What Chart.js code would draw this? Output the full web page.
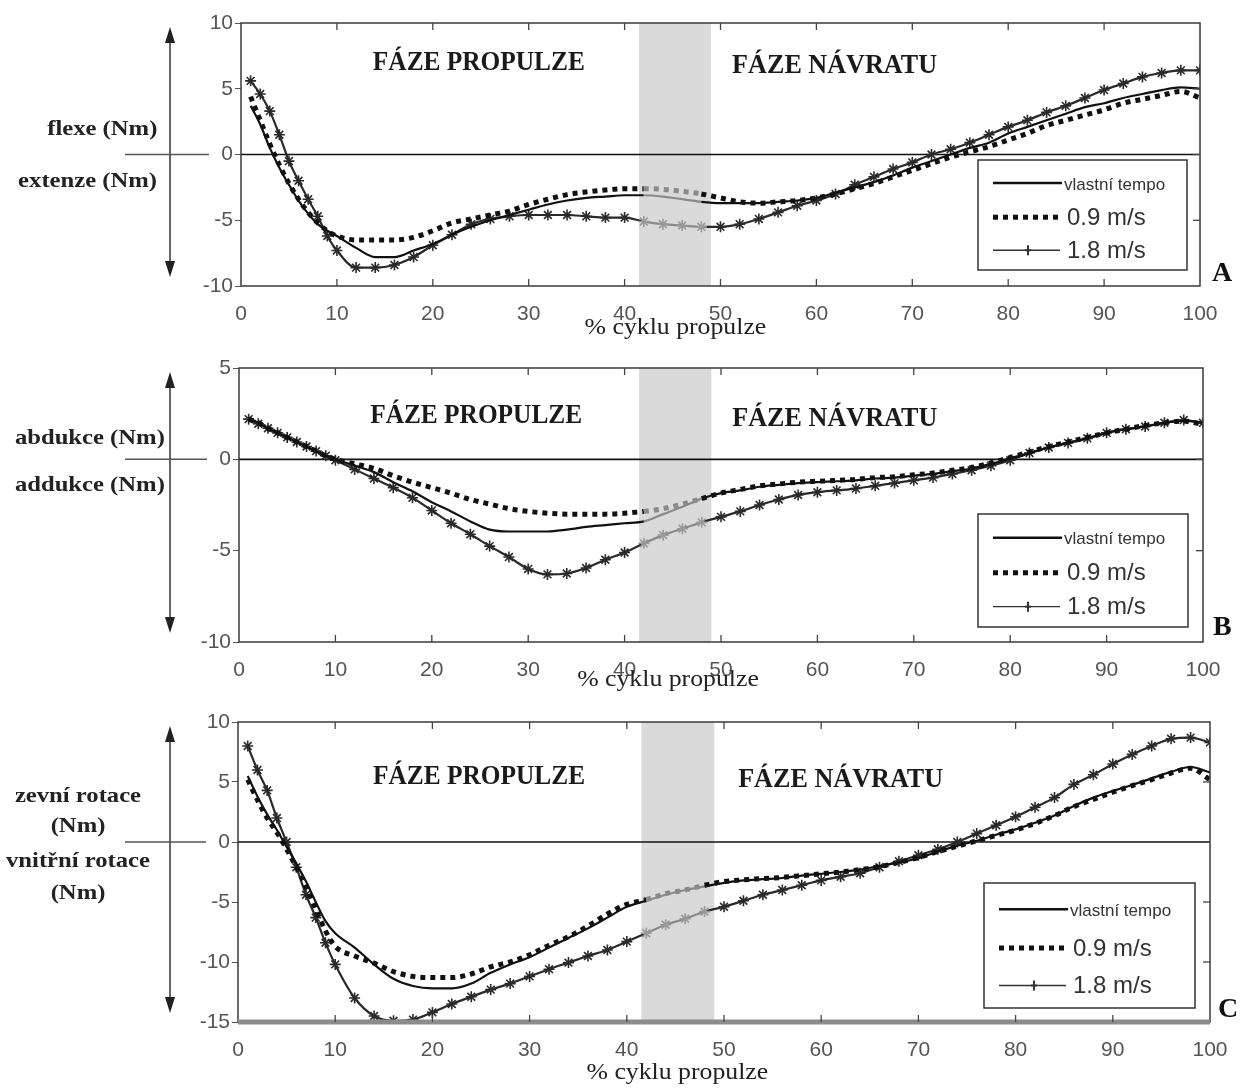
<!DOCTYPE html>
<html>
<head>
<meta charset="utf-8">
<script src="https://cdn.jsdelivr.net/npm/chart.js@4.4.1/dist/chart.umd.min.js"></script>
<style>
  body { margin: 0; background: #fff; width: 1249px; height: 1090px; position: relative; overflow: hidden; }
  canvas { position: absolute; left: 0; }
  .side { position: absolute; font-family: "Liberation Serif", serif; font-weight: bold; font-size: 22px;
          line-height: 26px; color: #222; white-space: nowrap; transform: scaleX(1.12); }
  .r { text-align: right; transform-origin: right center; }
  .c { text-align: center; width: 160px; transform-origin: center center; }
  .tag { position: absolute; font-family: "Liberation Serif", serif; font-weight: bold; font-size: 28px; color: #111; }
</style>
</head>
<body>
<canvas id="chartA" width="1249" height="340" style="top:0"></canvas>
<canvas id="chartB" width="1249" height="360" style="top:340px"></canvas>
<canvas id="chartC" width="1249" height="390" style="top:700px"></canvas>

<div class="side r" style="right:1092px;top:115px">flexe (Nm)</div>
<div class="side r" style="right:1092px;top:167px">extenze (Nm)</div>
<div class="side r" style="right:1084px;top:424px">abdukce (Nm)</div>
<div class="side r" style="right:1084px;top:471px">addukce (Nm)</div>
<div class="side c" style="left:-2px;top:782px">zevní rotace</div>
<div class="side c" style="left:-2px;top:812px">(Nm)</div>
<div class="side c" style="left:-2px;top:847px">vnitřní rotace</div>
<div class="side c" style="left:-2px;top:879px">(Nm)</div>
<div class="tag" style="left:1212px;top:256px">A</div>
<div class="tag" style="left:1213px;top:610px">B</div>
<div class="tag" style="left:1218px;top:992px">C</div>

<script>
// % of the propulsion cycle
const pct = [1, 2, 3, 4, 5, 6, 7, 8, 9, 10,
  12, 14, 16, 18, 20, 22, 24, 26, 28, 30, 32, 34, 36, 38, 40, 42, 44, 46, 48, 50,
  52, 54, 56, 58, 60, 62, 64, 66, 68, 70, 72, 74, 76, 78, 80, 82, 84, 86, 88, 90,
  92, 94, 96, 98, 100];

const seriesNames = ['vlastní tempo', '0.9 m/s', '1.8 m/s'];
const phaseLabels = ['FÁZE PROPULZE', 'FÁZE NÁVRATU'];
const xTitle = '% cyklu propulze';
const band = [41.5, 49];

// A - flexe / extenze
const aOwn = [3.7, 2.3, 0.5, -1.0, -2.3, -3.5, -4.5, -5.3, -5.8, -6.2,
  -7.1, -7.8, -7.8, -7.3, -6.8, -6.1, -5.5, -5.0, -4.6, -4.2,
  -3.8, -3.5, -3.3, -3.2, -3.1, -3.1, -3.2, -3.4, -3.6, -3.7,
  -3.7, -3.7, -3.6, -3.5, -3.3, -2.9, -2.5, -2.1, -1.6, -1.0,
  -0.5, 0.0, 0.5, 0.9, 1.6, 2.1, 2.6, 3.1, 3.6, 3.9,
  4.3, 4.6, 4.9, 5.1, 5.0];
const aSlow = [4.4, 2.6, 0.8, -0.8, -2.2, -3.4, -4.4, -5.2, -5.8, -6.2,
  -6.5, -6.5, -6.5, -6.3, -5.8, -5.2, -4.9, -4.6, -4.3, -3.8,
  -3.4, -3.05, -2.85, -2.7, -2.6, -2.6, -2.65, -2.8, -3.0, -3.3,
  -3.6, -3.7, -3.6, -3.5, -3.3, -3.0, -2.6, -2.2, -1.7, -1.2,
  -0.7, -0.2, 0.2, 0.6, 1.1, 1.6, 2.2, 2.6, 3.0, 3.4,
  3.9, 4.2, 4.5, 4.8, 4.3];
const aFast = [5.6, 4.6, 3.3, 1.5, -0.5, -2.0, -3.4, -4.7, -6.2, -7.3,
  -8.6, -8.6, -8.4, -7.8, -6.9, -6.1, -5.3, -4.9, -4.7, -4.6,
  -4.6, -4.6, -4.7, -4.8, -4.8, -5.1, -5.3, -5.4, -5.5, -5.5,
  -5.3, -4.9, -4.4, -3.9, -3.5, -3.0, -2.3, -1.7, -1.1, -0.6,
  0.0, 0.4, 0.9, 1.5, 2.1, 2.6, 3.2, 3.7, 4.3, 4.9,
  5.4, 5.9, 6.2, 6.4, 6.4];

// B - abdukce / addukce
const bOwn = [2.2, 2.0, 1.7, 1.45, 1.2, 0.95, 0.7, 0.45, 0.2, 0.0,
  -0.35, -0.7, -1.25, -1.75, -2.35, -2.85, -3.4, -3.85, -3.95, -3.95,
  -3.95, -3.85, -3.7, -3.6, -3.5, -3.4, -3.0, -2.6, -2.15, -1.85,
  -1.7, -1.5, -1.4, -1.3, -1.25, -1.2, -1.15, -1.05, -1.0, -0.9,
  -0.8, -0.65, -0.5, -0.25, 0.05, 0.35, 0.65, 0.9, 1.15, 1.45,
  1.65, 1.8, 2.0, 2.1, 2.0];
const bSlow = [2.2, 2.0, 1.7, 1.45, 1.2, 0.95, 0.7, 0.45, 0.2, 0.0,
  -0.25, -0.5, -0.9, -1.25, -1.55, -1.85, -2.2, -2.45, -2.7, -2.85,
  -2.95, -3.0, -3.0, -3.0, -2.95, -2.85, -2.7, -2.45, -2.15, -1.85,
  -1.65, -1.45, -1.35, -1.25, -1.2, -1.15, -1.1, -1.0, -0.95, -0.85,
  -0.75, -0.6, -0.45, -0.2, 0.1, 0.4, 0.7, 0.95, 1.2, 1.45,
  1.65, 1.85, 2.0, 2.1, 1.9];
const bFast = [2.2, 1.95, 1.7, 1.45, 1.2, 0.95, 0.7, 0.45, 0.2, -0.05,
  -0.55, -1.05, -1.55, -2.1, -2.8, -3.5, -4.1, -4.75, -5.35, -6.0,
  -6.3, -6.25, -5.95, -5.5, -5.1, -4.6, -4.15, -3.8, -3.45, -3.15,
  -2.85, -2.5, -2.2, -1.95, -1.8, -1.7, -1.6, -1.45, -1.3, -1.15,
  -1.0, -0.8, -0.6, -0.35, -0.05, 0.35, 0.65, 0.9, 1.15, 1.45,
  1.65, 1.8, 2.0, 2.15, 2.0];

// C - zevni / vnitrni rotace
const cOwn = [5.5, 3.8, 2.3, 1.0, -0.4, -1.8, -3.3, -5.0, -6.6, -7.6,
  -8.8, -10.2, -11.4, -12.0, -12.2, -12.2, -11.8, -10.9, -10.2, -9.6,
  -8.8, -8.0, -7.2, -6.3, -5.4, -4.9, -4.4, -4.0, -3.7, -3.4,
  -3.2, -3.1, -3.0, -2.8, -2.65, -2.5, -2.3, -2.0, -1.7, -1.35,
  -0.8, -0.3, 0.1, 0.6, 1.05, 1.6, 2.2, 3.0, 3.7, 4.25,
  4.75, 5.3, 5.85, 6.25, 5.8];
const cSlow = [5.2, 3.5, 2.0, 0.8, -0.6, -2.1, -3.7, -5.6, -7.4, -8.7,
  -9.5, -10.1, -10.8, -11.2, -11.3, -11.3, -11.0, -10.4, -10.0, -9.4,
  -8.6, -7.9, -7.0, -6.0, -5.2, -4.8, -4.3, -4.0, -3.6, -3.3,
  -3.15, -3.05, -2.95, -2.8, -2.65, -2.5, -2.3, -2.05, -1.7, -1.3,
  -0.8, -0.35, 0.1, 0.55, 1.0, 1.55, 2.2, 2.95, 3.55, 4.15,
  4.7, 5.2, 5.75, 6.15, 5.2];
const cFast = [8.0, 6.0, 4.3, 2.0, 0.0, -2.1, -4.4, -6.3, -8.4, -10.2,
  -13.0, -14.5, -14.9, -14.8, -14.2, -13.5, -12.9, -12.3, -11.8, -11.2,
  -10.6, -10.05, -9.5, -9.0, -8.3, -7.6, -6.9, -6.4, -5.8, -5.4,
  -4.9, -4.4, -4.0, -3.6, -3.2, -2.9, -2.6, -2.1, -1.6, -1.1,
  -0.6, 0.0, 0.7, 1.4, 2.1, 2.9, 3.7, 4.8, 5.6, 6.5,
  7.3, 8.0, 8.6, 8.7, 8.3];

const tickFont = { family: '"Liberation Sans", Arial, sans-serif', size: 21 };

function pts(vals) {
  return vals.map((v, i) => ({ x: pct[i], y: v }));
}

function inBand(ctx) {
  return ctx.p0.parsed.x >= band[0] && ctx.p1.parsed.x <= band[1];
}

function line(ctx, x1, y1, x2, y2) {
  ctx.beginPath();
  ctx.moveTo(x1, y1);
  ctx.lineTo(x2, y2);
  ctx.stroke();
}

const frame = {
  id: 'frame',
  beforeDatasetsDraw(chart) {
    const { ctx, chartArea: a, scales: { x, y } } = chart;
    ctx.save();
    const b0 = x.getPixelForValue(band[0]), b1 = x.getPixelForValue(band[1]);
    ctx.fillStyle = '#dadada';
    ctx.fillRect(b0, a.top, b1 - b0, a.bottom - a.top);
    const y0 = y.getPixelForValue(0);
    ctx.strokeStyle = '#111';
    ctx.lineWidth = 1.6;
    line(ctx, a.left, y0, a.right, y0);
    ctx.restore();
  },
  afterDraw(chart) {
    const o = chart.options.plugins.frame;
    const { ctx, chartArea: a, scales: { x, y } } = chart;
    ctx.save();

    // box + inward ticks
    ctx.strokeStyle = '#3a3a3a';
    ctx.lineWidth = 1.5;
    ctx.strokeRect(a.left, a.top, a.right - a.left, a.bottom - a.top);
    if (o.thickBottom) {
      ctx.strokeStyle = '#8c8c8c';
      ctx.lineWidth = 5;
      line(ctx, a.left, a.bottom, a.right, a.bottom);
    }
    ctx.strokeStyle = '#444';
    ctx.lineWidth = 1.3;
    x.ticks.forEach(t => {
      if (t.value <= x.min || t.value >= x.max) return;
      const px = x.getPixelForValue(t.value);
      line(ctx, px, a.top, px, a.top + 7);
      line(ctx, px, a.bottom, px, a.bottom - 7);
    });
    y.ticks.forEach(t => {
      if (t.value <= y.min || t.value >= y.max) return;
      const py = y.getPixelForValue(t.value);
      line(ctx, a.right, py, a.right - 7, py);
    });

    // phase labels
    ctx.fillStyle = '#1a1a1a';
    ctx.font = 'bold 27px "Liberation Serif", serif';
    ctx.textAlign = 'center';
    ctx.textBaseline = 'alphabetic';
    ctx.fillText(phaseLabels[0], x.getPixelForValue(o.phaseX[0]), y.getPixelForValue(o.phaseY), 212);
    ctx.fillText(phaseLabels[1], x.getPixelForValue(o.phaseX[1]), y.getPixelForValue(o.phaseY) + 3, 205);

    // x title
    ctx.save();
    ctx.translate(x.getPixelForValue(o.titleX), a.bottom + o.titleGap);
    ctx.scale(1.12, 1);
    ctx.font = '23px "Liberation Serif", serif';
    ctx.textBaseline = 'middle';
    ctx.fillStyle = '#222';
    ctx.fillText(xTitle, 0, 0);
    ctx.restore();

    // legend
    const L = o.legend;
    const lx = a.right - L.r - L.w, ly = a.bottom - L.b - L.h;
    ctx.fillStyle = '#fff';
    ctx.fillRect(lx, ly, L.w, L.h);
    ctx.strokeStyle = '#333';
    ctx.lineWidth = 1.5;
    ctx.strokeRect(lx, ly, L.w, L.h);
    const rows = [0.21, 0.52, 0.82].map(f => ly + L.h * f);
    const s0 = lx + 15, s1 = lx + 84;
    ctx.strokeStyle = '#111';
    ctx.lineWidth = 2.5;
    line(ctx, s0, rows[0], s1, rows[0]);
    ctx.setLineDash([5, 5]);
    ctx.lineWidth = 5;
    line(ctx, s0, rows[1], s1 - 2, rows[1]);
    ctx.setLineDash([]);
    ctx.strokeStyle = '#333';
    ctx.lineWidth = 1.4;
    line(ctx, s0, rows[2], s1 - 2, rows[2]);
    const mx = s0 + 35;
    ctx.lineWidth = 2;
    line(ctx, mx, rows[2] - 5, mx, rows[2] + 5);
    line(ctx, mx - 3, rows[2], mx + 3, rows[2]);
    ctx.fillStyle = '#333';
    ctx.textAlign = 'left';
    ctx.textBaseline = 'middle';
    ctx.font = '17px "Liberation Sans", sans-serif';
    ctx.fillText(seriesNames[0], s1 + 2, rows[0] + 2, L.w - 88);
    ctx.font = '24px "Liberation Sans", sans-serif';
    ctx.fillText(seriesNames[1], s1 + 5, rows[1] + 1, 80);
    ctx.fillText(seriesNames[2], s1 + 5, rows[2] + 1, 80);

    // double arrow on the left + zero connector
    const ax = 170, top = a.top + 4, bot = a.bottom - 9;
    ctx.strokeStyle = '#333';
    ctx.fillStyle = '#222';
    ctx.lineWidth = 1.5;
    line(ctx, ax, top + 10, ax, bot - 10);
    ctx.beginPath();
    ctx.moveTo(ax, top); ctx.lineTo(ax - 5, top + 16); ctx.lineTo(ax + 5, top + 16); ctx.closePath(); ctx.fill();
    ctx.beginPath();
    ctx.moveTo(ax, bot); ctx.lineTo(ax - 5, bot - 16); ctx.lineTo(ax + 5, bot - 16); ctx.closePath(); ctx.fill();
    const y0 = y.getPixelForValue(0);
    ctx.strokeStyle = '#555';
    line(ctx, 125, y0, a.left - 32, y0);

    ctx.restore();
  }
};

function makeChart(id, own, slow, fast, cfg) {
  const greyInBand = c => inBand(c) ? '#8a8a8a' : undefined;
  new Chart(document.getElementById(id), {
    type: 'line',
    data: {
      datasets: [
        { label: seriesNames[0], data: pts(own), borderColor: '#111', borderWidth: 2.2,
          pointRadius: 0, cubicInterpolationMode: 'monotone', segment: { borderColor: greyInBand } },
        { label: seriesNames[1], data: pts(slow), borderColor: '#111', borderWidth: 5,
          borderDash: [5, 5], borderCapStyle: 'butt', pointRadius: 0,
          cubicInterpolationMode: 'monotone', segment: { borderColor: greyInBand } },
        { label: seriesNames[2], data: pts(fast), borderColor: '#2a2a2a', borderWidth: 2.2,
          pointStyle: 'star', pointRadius: 5.5, pointBorderWidth: 1.6,
          pointBorderColor: c => (c.parsed && c.parsed.x >= band[0] && c.parsed.x <= band[1]) ? '#999' : '#2a2a2a',
          cubicInterpolationMode: 'monotone', segment: { borderColor: greyInBand } }
      ]
    },
    options: {
      responsive: false,
      animation: false,
      events: [],
      layout: { padding: { left: 0, top: cfg.top, right: cfg.right, bottom: 0 } },
      plugins: { legend: { display: false }, tooltip: { enabled: false }, frame: cfg },
      scales: {
        x: {
          type: 'linear', min: 0, max: 100,
          afterFit: s => { s.height = cfg.xh; },
          grid: { display: false }, border: { display: false },
          ticks: { stepSize: 10, autoSkip: false, maxRotation: 0, padding: 8, color: '#555', font: tickFont }
        },
        y: {
          min: cfg.yMin, max: cfg.yMax,
          afterFit: s => { s.width = cfg.yw; },
          grid: { drawOnChartArea: false, drawTicks: true, tickLength: 6, color: '#555' },
          border: { display: false },
          ticks: { stepSize: 5, padding: 2, color: '#555', font: tickFont }
        }
      }
    },
    plugins: [frame]
  });
}

makeChart('chartA', aOwn, aSlow, aFast, {
  top: 23, right: 49, xh: 54, yw: 241, yMin: -10, yMax: 10,
  phaseX: [24.8, 61.9], phaseY: 6.4, titleX: 45.3, titleGap: 42,
  legend: { w: 209, h: 110, r: 13, b: 16 }
});
makeChart('chartB', bOwn, bSlow, bFast, {
  top: 28, right: 46, xh: 58, yw: 239, yMin: -10, yMax: 5,
  phaseX: [24.6, 61.8], phaseY: 2.0, titleX: 44.5, titleGap: 38,
  legend: { w: 210, h: 113, r: 15, b: 15 }
});
makeChart('chartC', cOwn, cSlow, cFast, {
  top: 22, right: 39, xh: 68, yw: 238, yMin: -15, yMax: 10,
  phaseX: [24.8, 62.0], phaseY: 4.8, titleX: 45.2, titleGap: 51, thickBottom: true,
  legend: { w: 211, h: 125, r: 15, b: 14 }
});
</script>
</body>
</html>
